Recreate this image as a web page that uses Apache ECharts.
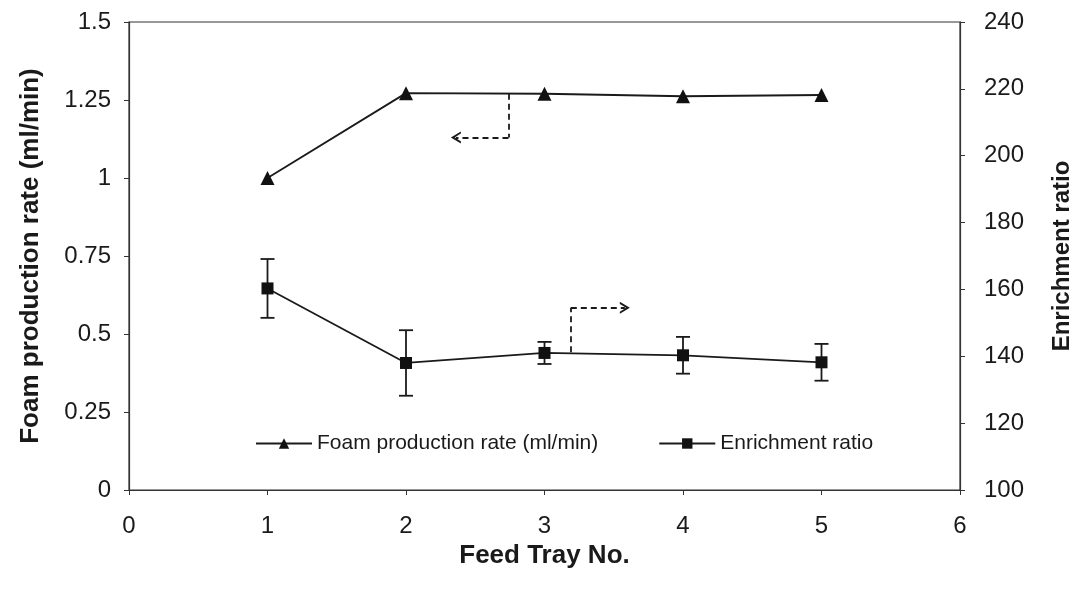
<!DOCTYPE html>
<html>
<head>
<meta charset="utf-8">
<script src="https://cdn.jsdelivr.net/npm/echarts@6/dist/echarts.min.js"></script>
<style>
html,body{margin:0;padding:0;background:#fff;}
#c{width:1071px;height:590px;}
</style>
</head>
<body>
<div id="c"></div>
<script>
// ---- data ----
const trays = [1, 2, 3, 4, 5];
const foamRate = [1.0, 1.272, 1.27, 1.262, 1.266];
const enrichment = [160.3, 138.0, 141.0, 140.3, 138.2];
const enrichErr = [8.8, 9.8, 3.3, 5.5, 5.5];
const leftTicks = [0, 0.25, 0.5, 0.75, 1, 1.25, 1.5];
const rightTicks = [100, 120, 140, 160, 180, 200, 220, 240];
const foamName = 'Foam production rate (ml/min)';
const enrichName = 'Enrichment ratio';
// annotation arrows (data coordinates)
const foamArrow = [[2.74, 1.27], [2.74, 1.13], [2.36, 1.13]];
const enrichArrow = [[3.19, 141.2], [3.19, 154.5], [3.58, 154.5]];

const font = 'Liberation Sans, Arial, Helvetica, sans-serif';
const arrowPath = 'path://M0,10L5,0L10,10L8.2,10L5,3.8L1.8,10Z';

function arrowLines(pts) {
  return [
    [{coord: pts[0], symbol: 'none'}, {coord: pts[1], symbol: 'none'}],
    [{coord: pts[1], symbol: 'none'}, {coord: pts[2], symbol: arrowPath, symbolSize: [12, 10]}]
  ];
}
const dashStyle = {color: '#1a1a1a', width: 1.8, type: [6, 4]};

const chart = echarts.init(document.getElementById('c'), null, {renderer: 'canvas'});
chart.setOption({
  animation: false,
  backgroundColor: '#fff',
  grid: {left: 129, right: 111, top: 22, bottom: 100, show: true, borderColor: '#333', borderWidth: 1.2,
    backgroundColor: 'transparent', containLabel: false, outerBoundsMode: 'none'},
  legend: {
    data: [foamName, enrichName],
    left: 250, top: 428,
    itemWidth: 56, itemHeight: 13, itemGap: 60,
    textStyle: {fontFamily: font, fontSize: 21, color: '#1a1a1a'}
  },
  xAxis: {
    type: 'value', min: 0, max: 6, interval: 1,
    name: 'Feed Tray No.', nameLocation: 'middle', nameGap: 41,
    nameTextStyle: {fontFamily: font, fontSize: 26, fontWeight: 'bold', color: '#1a1a1a', verticalAlign: 'top'},
    axisLine: {show: true, lineStyle: {color: '#333', width: 1.2}},
    axisTick: {show: true, inside: false, length: 5, lineStyle: {color: '#333'}},
    axisLabel: {fontFamily: font, fontSize: 24, color: '#1a1a1a', margin: 24},
    splitLine: {show: false}
  },
  yAxis: [{
    type: 'value', min: 0, max: 1.5, interval: 0.25, position: 'left',
    name: foamName, nameLocation: 'middle', nameGap: 85, nameRotate: 90,
    nameTextStyle: {fontFamily: font, fontSize: 26, fontWeight: 'bold', color: '#1a1a1a'},
    axisLine: {show: true, lineStyle: {color: '#333', width: 1.2}},
    axisTick: {show: true, length: 5, lineStyle: {color: '#333'}},
    axisLabel: {fontFamily: font, fontSize: 24, color: '#1a1a1a', margin: 18,
      formatter: v => leftTicks.includes(v) ? String(v) : ''},
    splitLine: {show: false}
  }, {
    type: 'value', min: 100, max: 240, interval: 20, position: 'right',
    name: enrichName, nameLocation: 'middle', nameGap: 90, nameRotate: 90,
    nameTextStyle: {fontFamily: font, fontSize: 24, fontWeight: 'bold', color: '#1a1a1a'},
    axisLine: {show: true, lineStyle: {color: '#333', width: 1.2}},
    axisTick: {show: true, length: 5, lineStyle: {color: '#333'}},
    axisLabel: {fontFamily: font, fontSize: 24, color: '#1a1a1a', margin: 24,
      formatter: v => rightTicks.includes(v) ? String(v) : ''},
    splitLine: {show: false}
  }],
  series: [{
    name: foamName, type: 'line', yAxisIndex: 0,
    data: trays.map((t, i) => [t, foamRate[i]]),
    symbol: 'triangle', symbolSize: 14,
    lineStyle: {color: '#1a1a1a', width: 1.8},
    itemStyle: {color: '#111'},
    markLine: {silent: true, symbol: 'none', label: {show: false}, lineStyle: dashStyle,
      data: arrowLines(foamArrow)}
  }, {
    name: enrichName, type: 'line', yAxisIndex: 1,
    data: trays.map((t, i) => [t, enrichment[i]]),
    symbol: 'rect', symbolSize: 12,
    lineStyle: {color: '#1a1a1a', width: 1.8},
    itemStyle: {color: '#111'},
    z: 3,
    markLine: {silent: true, symbol: 'none', label: {show: false}, lineStyle: dashStyle,
      data: arrowLines(enrichArrow)}
  }, {
    name: 'errors', type: 'custom', yAxisIndex: 1,
    data: trays.map((t, i) => [t, enrichment[i] - enrichErr[i], enrichment[i] + enrichErr[i]]),
    renderItem: function (params, api) {
      const lo = api.coord([api.value(0), api.value(1)]);
      const hi = api.coord([api.value(0), api.value(2)]);
      const hw = 7;
      const st = {stroke: '#1a1a1a', lineWidth: 1.8};
      return {type: 'group', children: [
        {type: 'line', shape: {x1: lo[0], y1: lo[1], x2: hi[0], y2: hi[1]}, style: st},
        {type: 'line', shape: {x1: lo[0] - hw, y1: lo[1], x2: lo[0] + hw, y2: lo[1]}, style: st},
        {type: 'line', shape: {x1: hi[0] - hw, y1: hi[1], x2: hi[0] + hw, y2: hi[1]}, style: st}
      ]};
    },
    z: 2
  }]
});
</script>
</body>
</html>
